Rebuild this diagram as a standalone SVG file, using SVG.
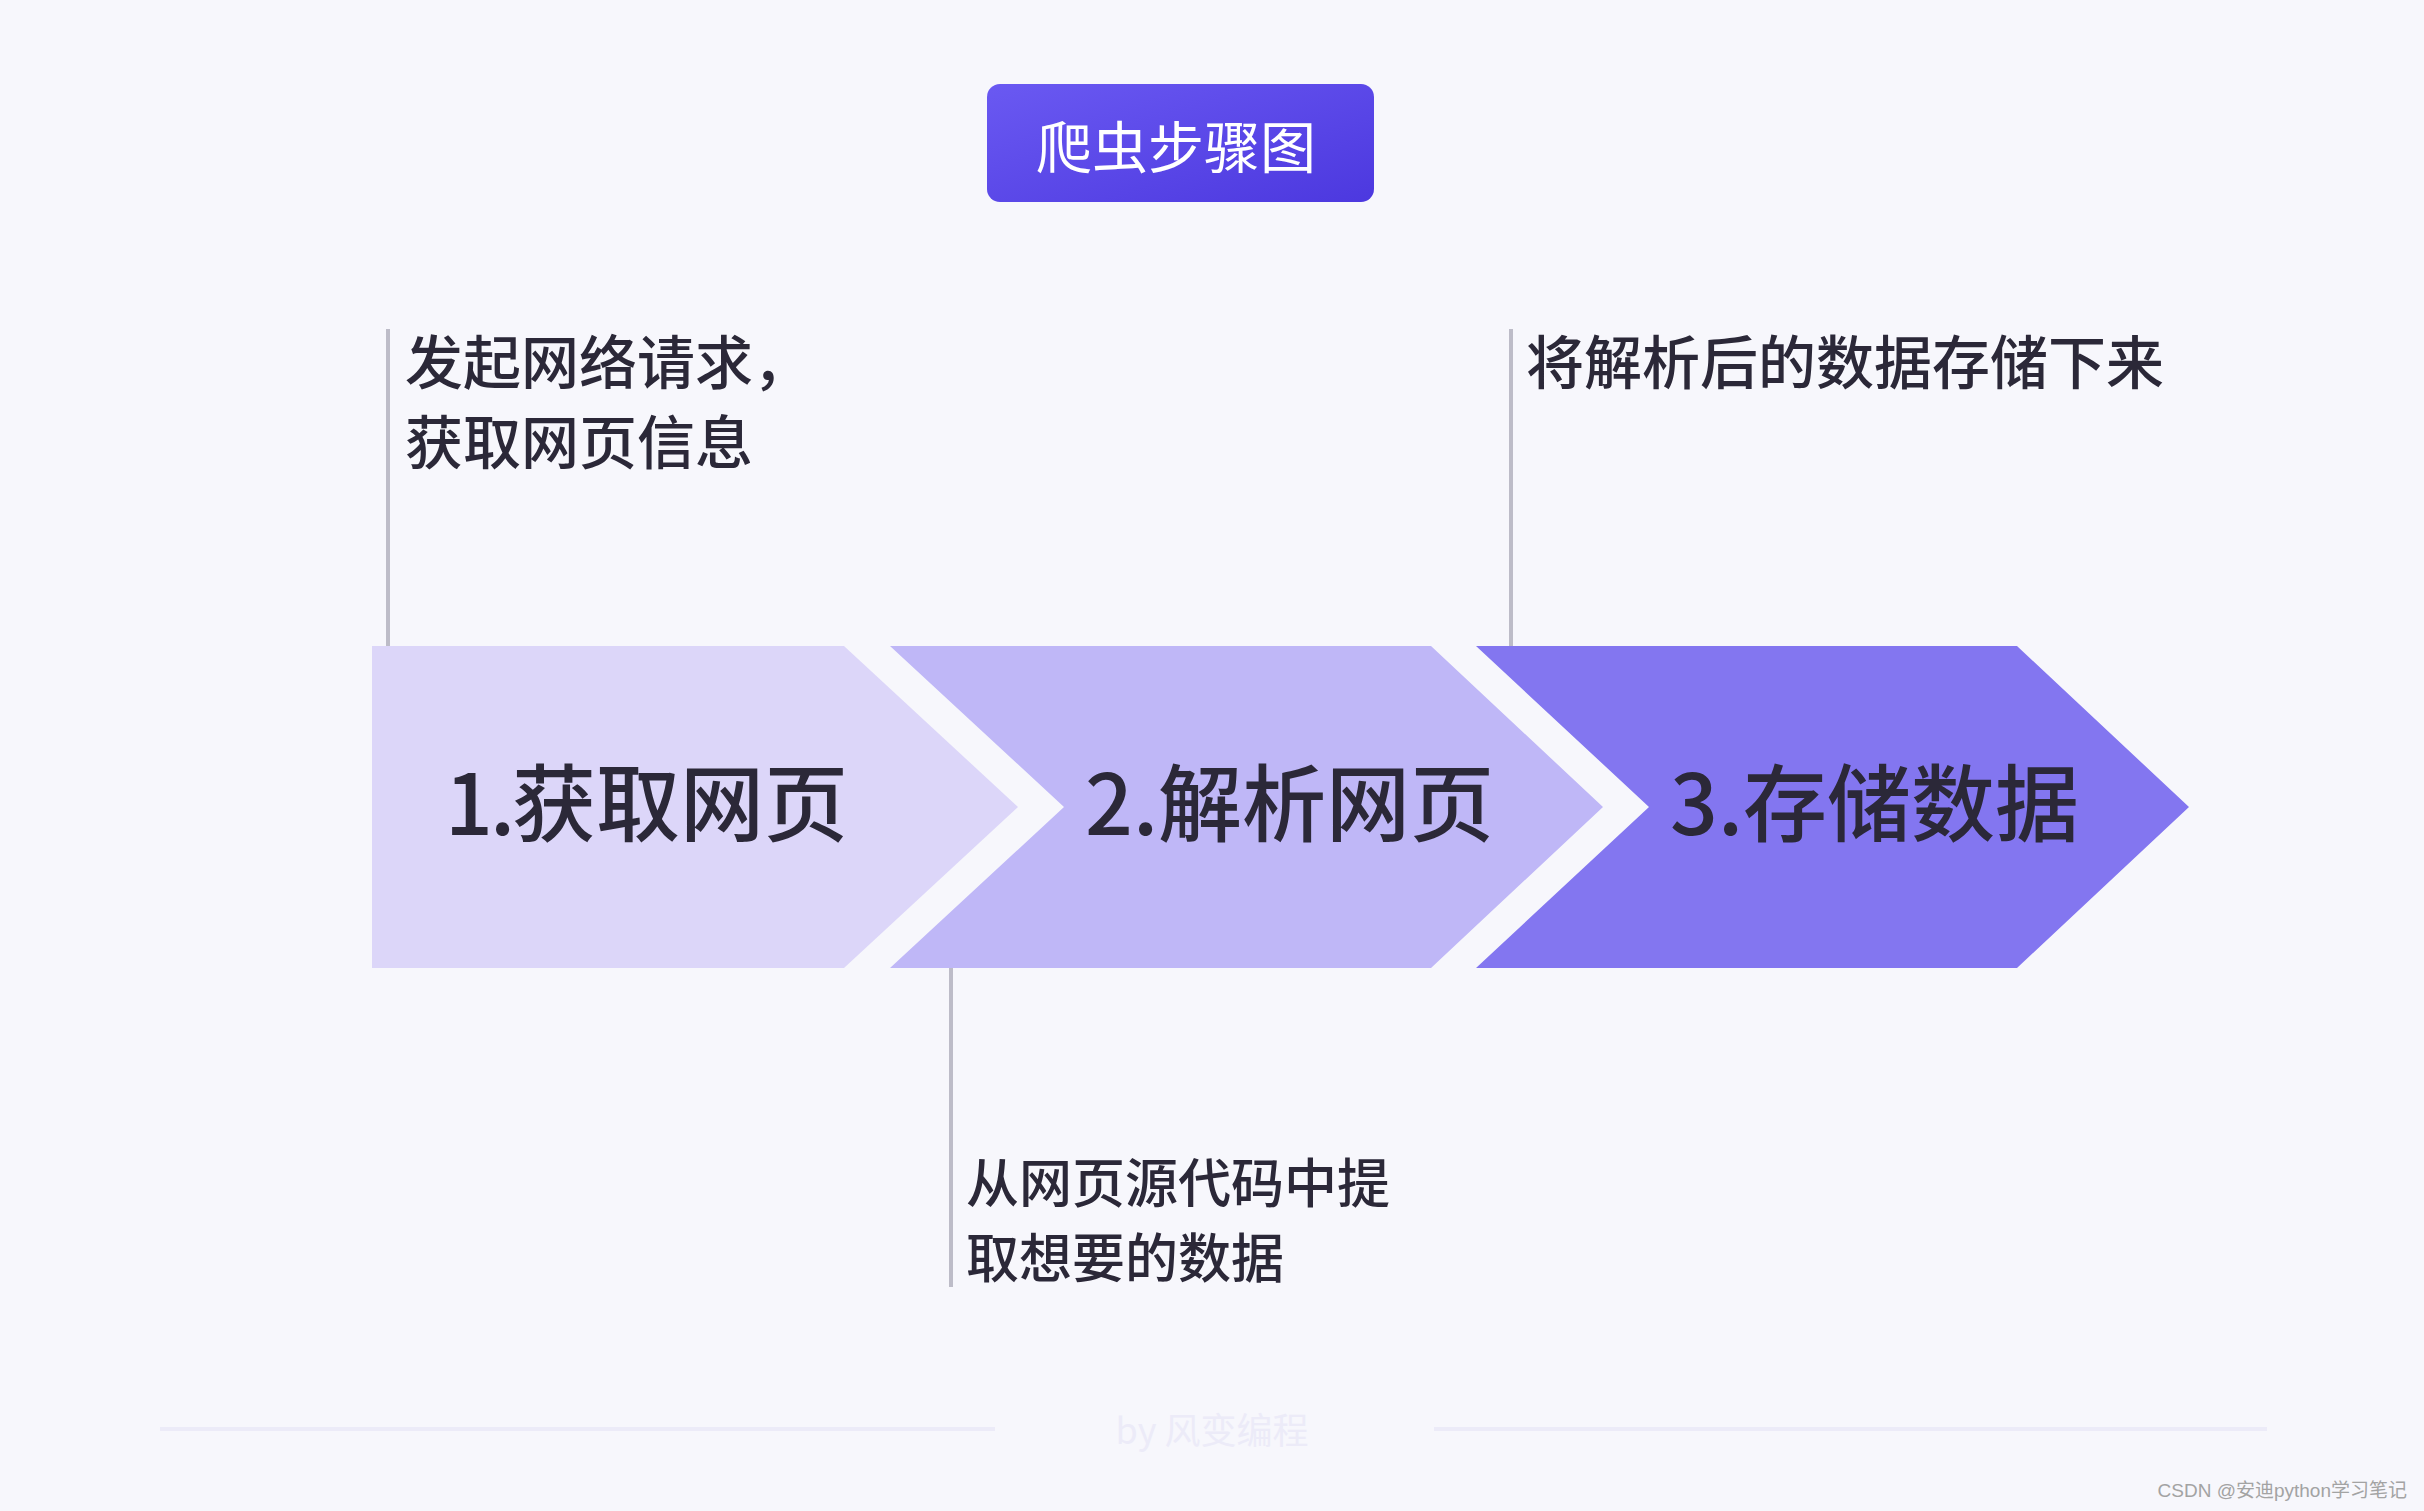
<svg xmlns="http://www.w3.org/2000/svg" width="2424" height="1511" viewBox="0 0 2424 1511">
<defs>
<linearGradient id="titleGrad" x1="0" y1="0" x2="1" y2="1">
<stop offset="0" stop-color="#6A59F2"/>
<stop offset="1" stop-color="#4C38DF"/>
</linearGradient>
<style>
.cjk{font-family:"Noto Sans CJK SC","Noto Sans",sans-serif;}
.note{font-size:58px;font-weight:500;fill:#2B2838;}
.note2{font-size:53px;font-weight:500;fill:#2B2838;}
.step{font-size:84px;font-weight:500;fill:#2B2838;}
.lead{stroke:#BDBCC8;stroke-width:4;fill:none;}
.foot{stroke:#ECEBF8;stroke-width:4;}
</style>
</defs>
<rect x="0" y="0" width="2424" height="1511" fill="#F7F7FC"/>

<g id="title">
<rect x="987" y="84" width="387" height="118" rx="13" fill="url(#titleGrad)"/>
<text class="cjk" x="1176" y="143" font-size="56" font-weight="400" fill="#FFFFFF" text-anchor="middle" dominant-baseline="central">爬虫步骤图</text>
</g>

<g id="connectors">
<line class="lead" x1="388" y1="329" x2="388" y2="646"/>
<line class="lead" x1="951" y1="968" x2="951" y2="1287"/>
<line class="lead" x1="1511" y1="329" x2="1511" y2="646"/>
</g>

<g id="step1">
<polygon points="372,646 844,646 1018,807 844,968 372,968" fill="#DCD6F9"/>
<text class="cjk step" x="445" y="835"><tspan letter-spacing="-3">1.</tspan>获取网页</text>
</g>
<g id="step2">
<polygon points="890,646 1431,646 1603,807 1431,968 890,968 1064,807" fill="#BFB7F7"/>
<text class="cjk step" x="1085" y="835">2.解析网页</text>
</g>
<g id="step3">
<polygon points="1476,646 2017,646 2189,807 2017,968 1476,968 1649,807" fill="#8376F0"/>
<text class="cjk step" x="1670" y="835">3.存储数据</text>
</g>

<g id="note1">
<text class="cjk note" x="405" y="384">发起网络请求，</text>
<text class="cjk note" x="405" y="464">获取网页信息</text>
</g>
<g id="note2">
<text class="cjk note2" x="966" y="1203">从网页源代码中提</text>
<text class="cjk note2" x="966" y="1278">取想要的数据</text>
</g>
<g id="note3">
<text class="cjk note" x="1526" y="384">将解析后的数据存储下来</text>
</g>

<g id="footer">
<line class="foot" x1="160" y1="1429" x2="995" y2="1429"/>
<line class="foot" x1="1434" y1="1429" x2="2267" y2="1429"/>
<text class="cjk" x="1212" y="1444" font-size="36" fill="#ECEBF8" text-anchor="middle">by 风变编程</text>
</g>

<text x="2407" y="1497" font-family="'Liberation Sans','Noto Sans CJK SC',sans-serif" font-size="19" fill="#A3A3A3" text-anchor="end">CSDN @安迪python学习笔记</text>
</svg>
